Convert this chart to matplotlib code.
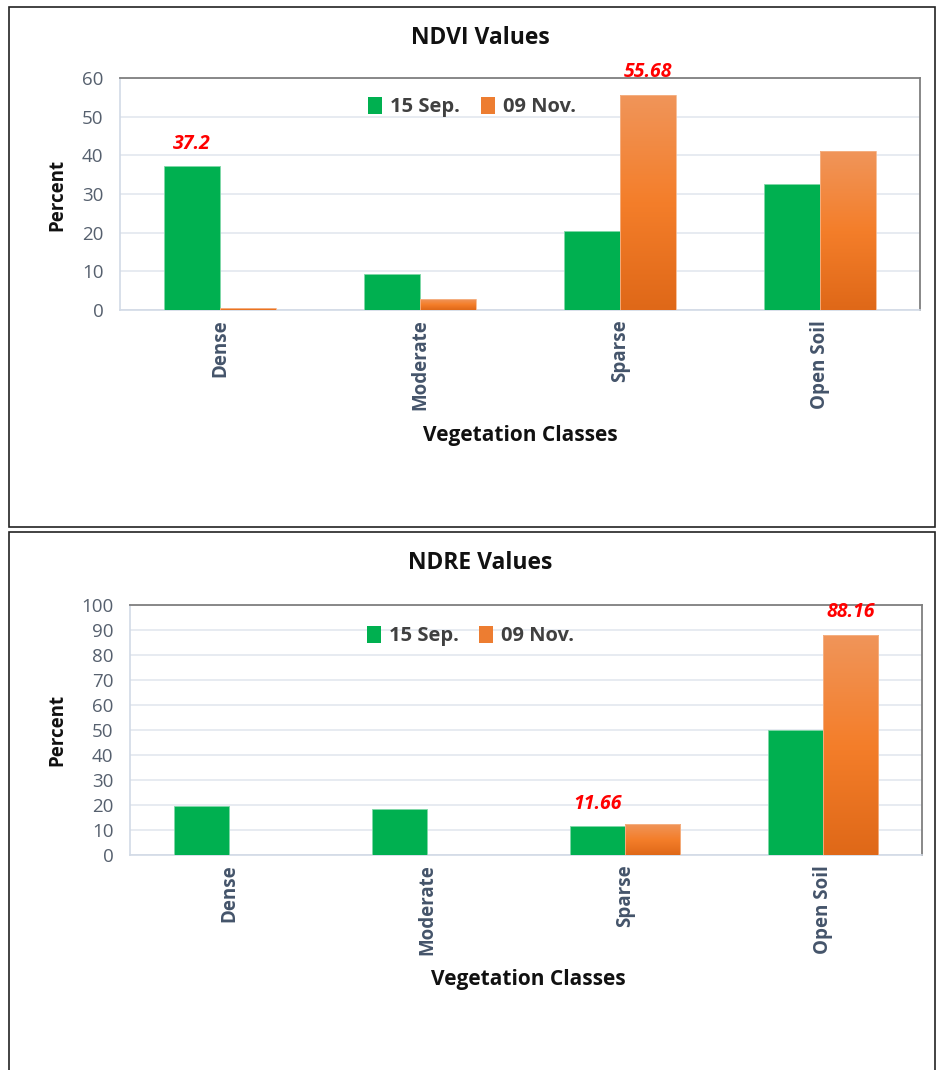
import matplotlib.pyplot as plt
import numpy as np
from matplotlib.colors import LinearSegmentedColormap
from matplotlib.patches import Rectangle, Patch

classes = ["Dense", "Moderate", "Sparse", "Open Soil"]
dates = ["15 Sep.", "09 Nov."]

ndvi_sep = [37.2, 9.3, 20.4, 32.6]
ndvi_nov = [0.5, 2.8, 55.68, 41.1]

ndre_sep = [19.6, 18.4, 11.66, 50.0]
ndre_nov = [0.0, 0.0, 12.4, 88.16]

# value labels: (category index, series index, text)
ndvi_labels = [(0, 0, "37.2"), (2, 1, "55.68")]
ndre_labels = [(2, 0, "11.66"), (3, 1, "88.16")]

GREEN = "#00B050"
ORANGE = "#ED7D31"
orange_grad = LinearSegmentedColormap.from_list("og", ["#DF6818", "#F47E2A", "#F0955A"])

plt.rcParams["font.family"] = ["Open Sans", "DejaVu Sans"]

fig = plt.figure(figsize=(9.39, 10.7), dpi=100)

# panel frames
for y0, y1 in [(7, 527), (532, 1072)]:
    fig.patches.append(Rectangle((9 / 939, 1 - y1 / 1070), 926 / 939, (y1 - y0) / 1070,
                                 transform=fig.transFigure, fill=False,
                                 edgecolor="#222222", linewidth=1.2))


def draw_panel(rect, sep, nov, labels, ymax, title, title_y, ylab_y, xlab_xy, leg_xy):
    ax = fig.add_axes(rect)
    x = np.arange(len(classes))
    w = 0.28
    b1 = ax.bar(x - w / 2, sep, w, color=GREEN, edgecolor="#7FD7A7", linewidth=0.6, zorder=3)
    b2 = ax.bar(x + w / 2, nov, w, color="none", edgecolor="#F5B58A", linewidth=0.6, zorder=4)
    grad = np.linspace(0, 1, 256).reshape(-1, 1)
    for p, v in zip(b2, nov):
        if v <= 0:
            continue
        im = ax.imshow(grad, cmap=orange_grad, origin="lower", aspect="auto",
                       extent=[p.get_x(), p.get_x() + p.get_width(), 0, v], zorder=3)
        im.set_clip_path(p)
    ax.set_xlim(-0.5, len(classes) - 0.5)
    ax.set_ylim(0, ymax)
    ax.set_yticks(np.arange(0, ymax + 1, 10))
    ax.grid(axis="y", color="#E3E8EF", linewidth=1.2, zorder=0)
    ax.set_axisbelow(True)
    for s in ["top", "right"]:
        ax.spines[s].set_color("#7F7F7F")
        ax.spines[s].set_linewidth(1.3)
    for s in ["left", "bottom"]:
        ax.spines[s].set_color("#D2DAE6")
        ax.spines[s].set_linewidth(1.2)
    ax.tick_params(axis="both", length=0)
    ax.tick_params(axis="y", labelsize=13.5, labelcolor="#56606E", pad=12)
    ax.set_xticks(x)
    ax.set_xticklabels(classes, rotation=90, fontsize=13.5, fontweight="bold", color="#44546A")
    ax.tick_params(axis="x", pad=7)

    bars = [b1, b2]
    for ci, si, txt in labels:
        p = bars[si][ci]
        ax.annotate(txt, (p.get_x() + p.get_width() / 2, p.get_height()),
                    xytext=(0, 16), textcoords="offset points", ha="center", va="center",
                    color="#FF0000", fontsize=14, fontweight="bold", fontstyle="italic",
                    annotation_clip=False)

    handles = [Patch(facecolor=GREEN), Patch(facecolor=ORANGE)]
    leg = ax.legend(handles, dates, loc="center", bbox_to_anchor=leg_xy, ncol=2, frameon=False,
                    handlelength=0.7, handleheight=0.9, handletextpad=0.4, columnspacing=1.0,
                    prop={"weight": "bold", "size": 14.5})
    for t in leg.get_texts():
        t.set_color("#404040")

    fig.text(480 / 939, 1 - title_y / 1070, title, ha="center", va="center",
             fontsize=16.5, fontweight="bold", color="#111111")
    fig.text(57 / 939, 1 - ylab_y / 1070, "Percent", ha="center", va="center", rotation=90,
             fontsize=13.5, fontweight="bold", color="#111111")
    fig.text(xlab_xy[0] / 939, 1 - xlab_xy[1] / 1070, "Vegetation Classes", ha="center",
             va="center", fontsize=15, fontweight="bold", color="#111111")
    return ax


draw_panel([120 / 939, 1 - 310 / 1070, 800 / 939, 232 / 1070], ndvi_sep, ndvi_nov, ndvi_labels,
           60, "NDVI Values", 38, 195, (520, 436), (0.44, 0.875))
draw_panel([130 / 939, 1 - 855 / 1070, 792 / 939, 250 / 1070], ndre_sep, ndre_nov, ndre_labels,
           100, "NDRE Values", 563, 730, (528, 980), (0.43, 0.876))

fig.savefig("out.png", dpi=100)
